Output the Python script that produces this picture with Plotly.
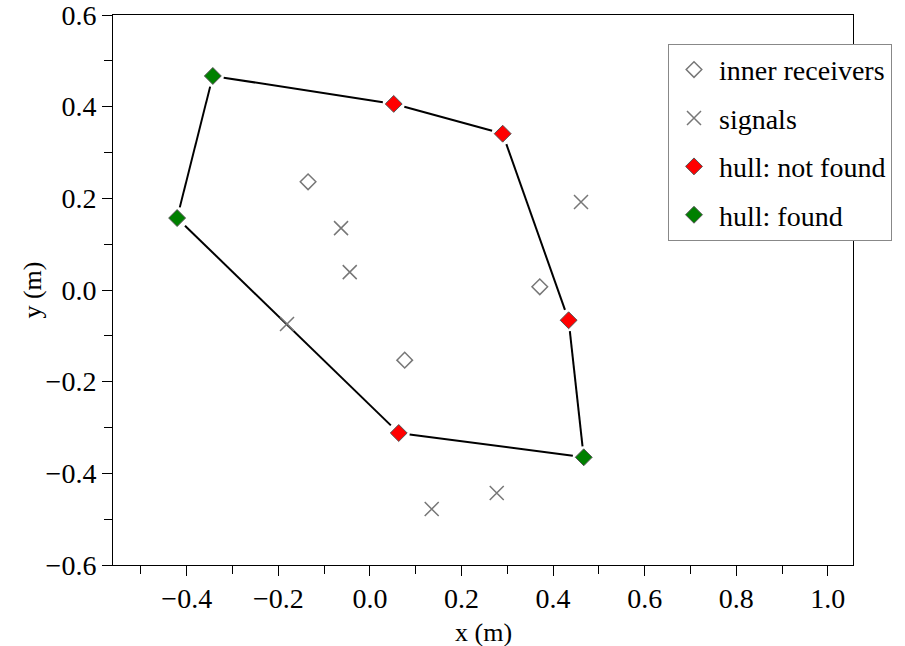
import plotly.graph_objects as go
import numpy as np

# Hull vertices in polygon order, with found flag
hull_x = [-0.343, 0.052, 0.290, 0.434, 0.467, 0.063, -0.421]
hull_y = [0.467, 0.406, 0.341, -0.066, -0.365, -0.312, 0.157]
hull_found = [True, False, False, False, True, False, True]

inner_x = [-0.135, 0.371, 0.076]
inner_y = [0.236, 0.007, -0.153]

signal_x = [0.461, -0.063, -0.044, -0.181, 0.135, 0.277]
signal_y = [0.192, 0.135, 0.039, -0.074, -0.478, -0.443]

GAP = 0.024  # gap between edge line and marker (data units)

# Build polygon edges with small gaps at each vertex
seg_x, seg_y = [], []
n = len(hull_x)
for i in range(n):
    x0, y0 = hull_x[i], hull_y[i]
    x1, y1 = hull_x[(i + 1) % n], hull_y[(i + 1) % n]
    d = np.hypot(x1 - x0, y1 - y0)
    ux, uy = (x1 - x0) / d, (y1 - y0) / d
    seg_x += [x0 + ux * GAP, x1 - ux * GAP, None]
    seg_y += [y0 + uy * GAP, y1 - uy * GAP, None]

font = "Liberation Serif"

fig = go.Figure()
fig.add_trace(go.Scatter(x=seg_x, y=seg_y, mode="lines",
                         line=dict(color="black", width=2), showlegend=False,
                         hoverinfo="skip"))
fig.add_trace(go.Scatter(x=inner_x, y=inner_y, mode="markers", name="inner receivers",
                         legendgroup="a",
                         marker=dict(symbol="diamond-open", size=12,
                                     color="#777777", line=dict(width=1.5, color="#777777"))))
fig.add_trace(go.Scatter(x=signal_x, y=signal_y, mode="markers", name="signals",
                         legendgroup="b",
                         marker=dict(symbol="x-thin-open", size=14,
                                     color="#777777", line=dict(width=1.5, color="#777777"))))
nf_x = [x for x, f in zip(hull_x, hull_found) if not f]
nf_y = [y for y, f in zip(hull_y, hull_found) if not f]
f_x = [x for x, f in zip(hull_x, hull_found) if f]
f_y = [y for y, f in zip(hull_y, hull_found) if f]
fig.add_trace(go.Scatter(x=nf_x, y=nf_y, mode="markers", name="hull: not found",
                         legendgroup="c",
                         marker=dict(symbol="diamond", size=13, color="#ff0000",
                                     line=dict(width=1, color="#555555"))))
fig.add_trace(go.Scatter(x=f_x, y=f_y, mode="markers", name="hull: found",
                         legendgroup="d",
                         marker=dict(symbol="diamond", size=13, color="#008000",
                                     line=dict(width=1, color="#555555"))))
# empty trace bound to the label-only x axis
fig.add_trace(go.Scatter(x=[], y=[], xaxis="x2", showlegend=False, hoverinfo="skip"))

XRANGE = [-0.561, 1.055]
YRANGE = [-0.6, 0.6]

axis_common = dict(showline=True, linecolor="black", linewidth=1, mirror=True,
                   showgrid=False, zeroline=False, ticks="outside", ticklen=10,
                   tickcolor="black", tickformat=".1f", automargin=False,
                   ticklabeloverflow="allow",
                   tickfont=dict(family=font, size=28, color="black"),
                   minor=dict(dtick=0.1, ticks="outside", ticklen=8, tickcolor="black"))

fig.update_layout(
    xaxis=dict(range=XRANGE, dtick=0.2, tick0=0, showticklabels=False, **axis_common),
    xaxis2=dict(range=XRANGE, dtick=0.2, tick0=0, overlaying="x", side="bottom",
                anchor="y", ticks="outside", ticklen=8, tickcolor="rgba(0,0,0,0)",
                showline=False, showgrid=False, zeroline=False,
                tickformat=".1f", automargin=False, ticklabeloverflow="allow",
                tickfont=dict(family=font, size=28, color="black")),
    yaxis=dict(range=YRANGE, dtick=0.2, tick0=0, **axis_common),
)

fig.add_annotation(text="x (m)", xref="paper", yref="paper", x=0.5, y=-0.122,
                   xanchor="center", yanchor="middle", showarrow=False,
                   font=dict(family=font, size=26, color="black"))
fig.add_annotation(text="y (m)", xref="paper", yref="paper", x=-0.11, y=0.5,
                   xanchor="center", yanchor="middle", textangle=-90, showarrow=False,
                   font=dict(family=font, size=26, color="black"))

fig.update_layout(
    width=905, height=646,
    margin=dict(l=113, r=52, t=15, b=81),
    plot_bgcolor="white", paper_bgcolor="white",
    font=dict(family=font, color="black"),
    legend=dict(x=0.75, y=0.9475, xanchor="left", yanchor="top",
                bordercolor="#888888", borderwidth=1, bgcolor="white",
                font=dict(family=font, size=28, color="black"),
                traceorder="grouped", tracegroupgap=9, itemwidth=40),
)

fig.write_html("out.html")
